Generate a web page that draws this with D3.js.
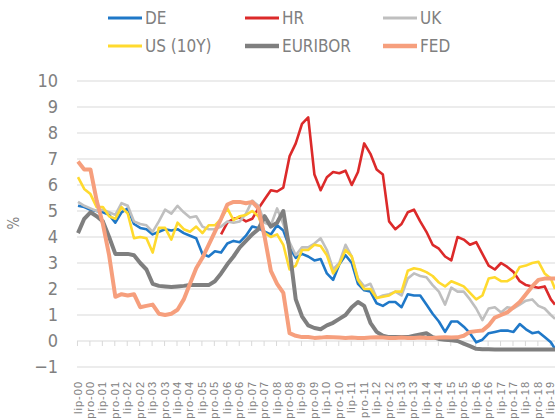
<!DOCTYPE html>
<html>
<head>
<meta charset="utf-8">
<script src="https://cdn.jsdelivr.net/npm/d3@7"></script>
<style>
  body { margin: 0; background: #fff; }
  svg { display: block; }
</style>
</head>
<body>
<svg id="SVG_CONTAINER" width="555" height="418"></svg>
<script>
// months since lip-00 (June 2000), sampled every quarter
const months = [0,3,6,9,12,15,18,21,24,27,30,33,36,39,42,45,48,51,54,57,60,63,66,69,72,75,78,81,84,87,
    90,93,96,99,102,105,108,111,114,117,120,123,126,129,132,135,138,141,144,147,150,153,156,159,162,165,168,171,174,177,
    180,183,186,189,192,195,198,201,204,207,210,213,216,219,222,225,228,230];

const DE = [5.2,5.15,5.05,5.0,4.95,4.85,4.55,4.95,5.1,4.5,4.35,4.3,4.1,4.2,4.3,4.25,4.3,4.15,4.05,3.95,
    3.35,3.25,3.45,3.4,3.75,3.85,3.8,4.05,4.4,4.35,4.2,4.1,4.45,4.25,3.6,3.2,3.35,3.25,3.1,3.15,
    2.6,2.35,2.95,3.3,3.0,2.2,1.95,1.9,1.45,1.35,1.5,1.5,1.3,1.8,1.75,1.75,1.4,1.05,0.75,0.35,
    0.75,0.75,0.55,0.3,-0.05,0.05,0.3,0.35,0.4,0.4,0.35,0.65,0.45,0.3,0.35,0.15,-0.05,-0.3];

const HR = [null,null,null,null,null,null,null,null,null,null,null,null,null,null,null,null,null,null,null,null,
    null,null,null,4.1,4.55,4.7,4.75,4.6,4.7,5.1,5.45,5.8,5.75,5.9,7.1,7.6,8.35,8.6,6.4,5.8,
    6.3,6.5,6.45,6.55,6.0,6.5,7.6,7.2,6.6,6.4,4.6,4.3,4.5,4.95,5.05,4.6,4.2,3.7,3.55,3.25,
    3.1,4.0,3.9,3.7,3.8,3.35,2.9,2.75,3.0,2.85,2.65,2.3,2.15,2.1,2.05,2.1,1.6,1.4];

const UK = [5.35,5.2,5.1,5.0,5.05,4.95,4.85,5.3,5.2,4.6,4.5,4.45,4.2,4.6,5.05,4.9,5.2,4.95,4.75,4.8,
    4.4,4.3,4.3,4.4,4.6,4.55,4.6,4.9,5.4,5.2,4.55,4.45,5.1,4.5,3.8,3.3,3.6,3.6,3.75,3.95,
    3.5,2.75,3.0,3.7,3.25,2.4,2.1,2.2,1.65,1.75,1.8,1.9,1.75,2.4,2.6,2.5,2.45,2.15,1.9,1.4,
    2.05,1.9,1.9,1.6,1.25,0.8,1.25,1.3,1.1,1.3,1.25,1.4,1.55,1.6,1.35,1.25,1.0,0.85];

const US = [6.3,5.85,5.65,5.15,5.15,4.8,4.7,5.15,4.9,3.95,4.0,3.95,3.4,4.35,4.35,3.9,4.55,4.3,4.2,4.4,
    4.15,4.45,4.45,4.7,5.1,4.65,4.8,4.85,5.0,4.8,4.15,4.0,4.1,3.7,2.75,2.9,3.5,3.5,3.7,3.65,
    3.3,2.6,2.95,3.5,3.25,2.35,2.0,2.0,1.65,1.7,1.75,1.9,1.9,2.7,2.8,2.75,2.65,2.5,2.25,2.1,
    2.3,2.2,2.1,1.85,1.6,1.75,2.4,2.45,2.3,2.3,2.45,2.85,2.9,3.0,3.05,2.6,2.4,2.0];

const EURIBOR = [4.15,4.7,4.95,4.8,4.6,4.0,3.35,3.35,3.35,3.3,3.0,2.75,2.2,2.12,2.1,2.08,2.1,2.12,2.15,2.15,
    2.15,2.15,2.3,2.6,2.95,3.25,3.6,3.85,4.1,4.3,4.8,4.4,4.55,5.0,3.5,1.6,0.95,0.6,0.5,0.45,
    0.6,0.7,0.85,1.0,1.3,1.5,1.35,0.7,0.35,0.2,0.15,0.15,0.15,0.15,0.2,0.25,0.3,0.15,0.08,0.05,
    0.03,0.0,-0.1,-0.2,-0.3,-0.32,-0.32,-0.33,-0.33,-0.33,-0.33,-0.33,-0.33,-0.33,-0.33,-0.33,-0.33,-0.33];

const FED = [6.9,6.6,6.6,5.4,4.5,3.3,1.7,1.8,1.75,1.8,1.3,1.35,1.4,1.05,1.0,1.05,1.2,1.6,2.2,2.8,
    3.2,3.7,4.2,4.7,5.25,5.35,5.35,5.3,5.35,5.1,4.0,2.7,2.2,1.85,0.3,0.2,0.15,0.15,0.12,0.13,
    0.15,0.14,0.13,0.12,0.13,0.12,0.12,0.13,0.14,0.13,0.12,0.12,0.13,0.12,0.12,0.13,0.12,0.12,0.13,0.14,
    0.13,0.14,0.2,0.35,0.38,0.4,0.6,0.9,1.0,1.1,1.3,1.5,1.8,2.1,2.35,2.4,2.4,2.4];

// category labels, one every 6 months
const tickLabels = ["lip-00","pro-00","lip-01","pro-01","lip-02","pro-02","lip-03","pro-03","lip-04","pro-04",
    "lip-05","pro-05","lip-06","pro-06","lip-07","pro-07","lip-08","pro-08","lip-09","pro-09",
    "lip-10","pro-10","lip-11","pro-11","lip-12","pro-12","lip-13","pro-13","lip-14","pro-14",
    "lip-15","pro-15","lip-16","pro-16","lip-17","pro-17","lip-18","pro-18","lip-19"];

const yTicks = [-1,0,1,2,3,4,5,6,7,8,9,10];

const seriesNames = ["DE","HR","UK","US (10Y)","EURIBOR","FED"];
const seriesColors = ["#1f78c8","#dc2a2a","#bfbfbf","#ffda2e","#7f7f7f","#f69f7d"];
const seriesWidths = [2.6,2.6,2.6,2.6,4,4];

const FONT = "'DejaVu Sans Condensed', 'Liberation Sans Narrow', sans-serif";
const TEXT_COLOR = "#808080";

var svg = d3.select("#SVG_CONTAINER");

var xScale = d3.scaleLinear()
    .domain([0, 230])
    .range([78, 555]);

var yScale = d3.scaleLinear()
    .domain([-1, 10])
    .range([367, 81]);

// horizontal gridlines
svg.append("g")
    .selectAll("line")
    .data(yTicks)
    .enter()
    .append("line")
    .attr("x1", 77)
    .attr("x2", 555)
    .attr("y1", d => yScale(d))
    .attr("y2", d => yScale(d))
    .attr("stroke", "#d9d9d9")
    .attr("stroke-width", 1);

// y axis labels
var yAxis = d3.axisLeft(yScale)
    .tickValues(yTicks)
    .tickSize(0)
    .tickPadding(0);

var yG = svg.append("g")
    .attr("transform", "translate(58,0)")
    .call(yAxis);
yG.select(".domain").remove();
yG.selectAll("text")
    .attr("font-family", FONT)
    .attr("font-size", "18px")
    .attr("fill", TEXT_COLOR);

svg.append("text")
    .attr("transform", "translate(19,223) rotate(-90)")
    .attr("text-anchor", "middle")
    .attr("font-family", FONT)
    .attr("font-size", "15px")
    .attr("fill", TEXT_COLOR)
    .text("%");

// category axis on the zero line, ticks between the labels
var tickPos = tickLabels.map((d, i) => i * 6 - 0.5);
var xAxis = d3.axisBottom(xScale)
    .tickValues(tickPos)
    .tickSize(5)
    .tickFormat("");

var xG = svg.append("g")
    .attr("transform", "translate(0," + yScale(0) + ")")
    .call(xAxis);
xG.select(".domain").remove();
xG.selectAll("line").attr("stroke", "#d9d9d9");

svg.append("g")
    .selectAll("text")
    .data(tickLabels)
    .enter()
    .append("text")
    .attr("transform", (d, i) => "translate(" + (xScale(i * 6) + 3.5) + ",381) rotate(-90)")
    .attr("text-anchor", "end")
    .attr("font-family", "'Liberation Sans', sans-serif")
    .attr("font-size", "11px")
    .attr("letter-spacing", "1px")
    .attr("fill", TEXT_COLOR)
    .text(d => d);

// series lines
var allSeries = [DE, HR, UK, US, EURIBOR, FED];
var line = d3.line()
    .defined(d => d[1] !== null)
    .x(d => xScale(d[0]))
    .y(d => yScale(d[1]));

allSeries.forEach(function (values, k) {
    svg.append("path")
        .datum(months.map((m, i) => [m, values[i]]))
        .attr("fill", "none")
        .attr("stroke", seriesColors[k])
        .attr("stroke-width", seriesWidths[k])
        .attr("stroke-linejoin", "round")
        .attr("d", line);
});

// legend, two rows of three
var legend = svg.append("g")
    .selectAll("g")
    .data(seriesNames)
    .enter()
    .append("g")
    .attr("transform", (d, i) => "translate(" + [108, 245, 383][i % 3] + "," + (i < 3 ? 18 : 46) + ")");

legend.append("line")
    .attr("x1", 0)
    .attr("x2", 34)
    .attr("stroke", (d, i) => seriesColors[i])
    .attr("stroke-width", (d, i) => seriesWidths[i] + 0.4);

legend.append("text")
    .attr("x", 37)
    .attr("y", 6)
    .attr("font-family", FONT)
    .attr("font-size", "17px")
    .attr("fill", TEXT_COLOR)
    .text(d => d);
</script>
</body>
</html>
